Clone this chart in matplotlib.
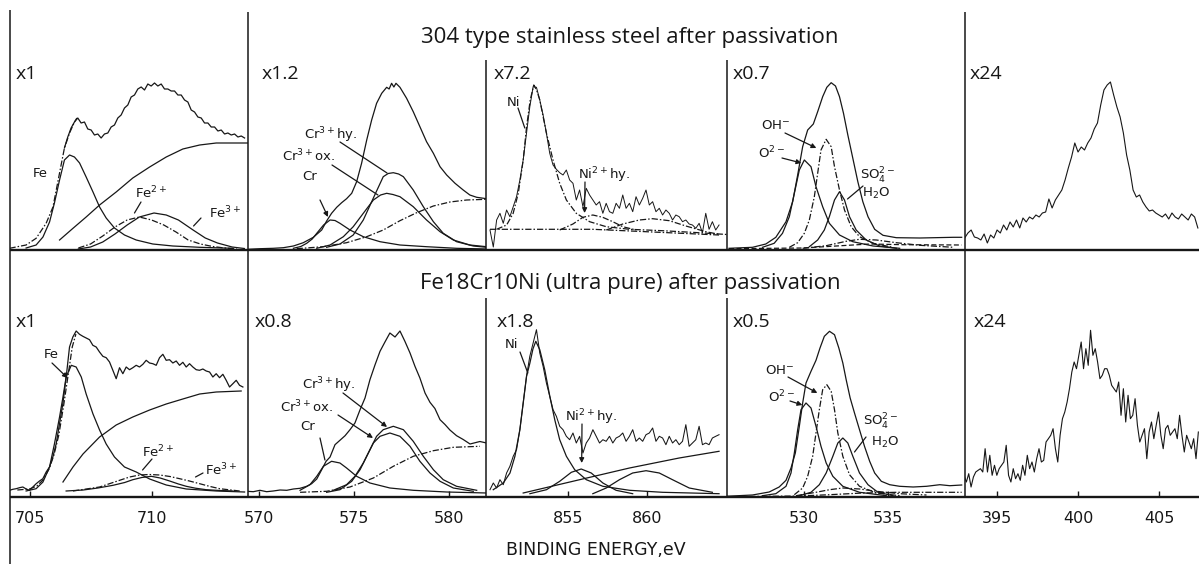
import numpy as np
import matplotlib
matplotlib.use('Agg')
import matplotlib.pyplot as plt
from matplotlib.lines import Line2D

W, H = 1199, 564
INK = '#171717'
DASHDOT = (0, (5, 1.6, 1.2, 1.6))

# ---------------- 304 stainless (top row) ----------------
# Fe 2p3/2
fe1_raw_i = [102, 113, 122, 128, 132, 127, 128, 121, 120, 115, 116, 112, 116, 117, 123, 125, 132, 135, 142, 145,
             153, 155, 161, 163, 160, 166, 164, 167, 164, 166, 161, 161, 159, 159, 155, 155, 150, 148, 140, 138,
             133, 132, 127, 127, 123, 123, 119, 120, 116, 117, 115, 116, 113, 114, 112]
fe1_raw_e = np.linspace(706.43, 713.81, len(fe1_raw_i))
fe1_env_e = [704.18, 704.86, 705.27, 705.68, 705.96, 706.23, 706.43, 706.64, 706.84, 706.94]
fe1_env_i = [1.7, 5, 11.7, 26.7, 43, 77, 102, 117, 128, 132]
fe1_bg_e = [706.23, 706.78, 707.32, 707.87, 708.55, 709.23, 709.92, 710.6, 711.28, 711.97, 712.65, 713.95]
fe1_bg_i = [10, 21.7, 33, 45, 58, 72, 83, 93, 101, 105, 107, 107]
fe1_fe_e = [704.86, 705.27, 705.55, 705.82, 706.02, 706.23, 706.43, 706.64, 706.84, 707.05, 707.32, 707.6, 707.87,
            708.14, 708.48, 708.89, 709.37, 710.05, 710.87, 711.97, 713.33]
fe1_fe_i = [2, 5, 13, 28, 47, 70, 90, 95, 93, 87, 73, 58, 43, 32, 22, 15, 10, 6, 4, 2.7, 1.7]
fe1_fe2_e = [707.0, 707.5, 708.0, 708.5, 709.0, 709.5, 710.0, 710.5, 711.0, 711.5, 712.0, 712.5, 713.0, 713.5]
fe1_fe2_i = [2, 6, 14, 23, 30, 33, 30, 25, 18, 10, 6, 3.5, 2, 1]
fe1_fe3_e = [707.0, 707.5, 708.0, 708.5, 709.0, 709.5, 710.1, 710.6, 711.1, 711.7, 712.2, 712.7, 713.3, 713.8]
fe1_fe3_i = [1, 3, 8, 16, 25, 33, 37, 35, 30, 20, 12, 7, 3, 1.5]

# Cr 2p3/2
cr1_raw_e = [569.42, 570.05, 570.75, 571.28, 571.81, 572.33, 572.86, 573.3, 573.56, 573.82, 574.09, 574.35, 574.61,
             574.88, 575.14, 575.4, 575.67, 575.93, 576.19, 576.46, 576.72, 576.85, 576.98, 577.1, 577.21, 577.42,
             577.77, 578.12, 578.47, 578.82, 579.18, 579.53, 579.88, 580.32, 580.75, 581.1, 581.46, 581.98]
cr1_raw_i = [0.7, 1.3, 1.7, 2.3, 4, 7.3, 12.7, 20, 29, 36.7, 42.7, 47.3, 51.3, 56.7, 68.3, 86.7, 110, 130, 146.7,
             156.7, 162.7, 161, 166.7, 163, 166.7, 162.7, 151.7, 138.3, 123.3, 108.3, 96.7, 83.3, 75, 66.7, 60, 55,
             52.7, 51.3]
cr1_bg_e = [571.98, 573.39, 574.61, 575.67, 576.54, 577.42, 578.3, 579.18, 580.05, 580.93, 581.98]
cr1_bg_i = [1.3, 3.3, 7.3, 13.3, 20, 29.3, 37.3, 44, 48, 50, 50.7]
cr1_cr_e = [571.81, 572.2, 572.51, 572.8, 573.04, 573.4, 573.74, 574.0, 574.26, 574.79, 575.49, 576.37, 577.42,
            578.82, 580.4, 582.0]
cr1_cr_i = [1.7, 3.5, 6.7, 11, 16.7, 25, 30, 29.5, 26.7, 20, 13.3, 8.3, 5, 3.3, 1.7, 1]
cr1_ox_e = [573.04, 573.74, 574.44, 574.96, 575.49, 576.02, 576.4, 576.72, 577.05, 577.42, 578.12, 578.82, 579.53,
            580.23, 581.1, 581.98]
cr1_ox_i = [1.7, 5, 13.3, 23.3, 36.7, 50, 55, 56.7, 55.5, 53.3, 43.3, 30, 18.3, 10, 5, 3.3]
cr1_hy_e = [573.56, 574.26, 574.96, 575.49, 576.02, 576.54, 576.8, 577.07, 577.35, 577.6, 578.12, 578.65, 579.18,
            579.7, 580.4, 581.28, 581.98]
cr1_hy_i = [2.7, 6, 15, 30, 52, 73.3, 76.5, 77.3, 76, 73.3, 60, 43.3, 28.3, 16.7, 8.3, 4, 2.7]

# Ni 2p3/2
ni1_raw_i = [20, 3, 30, 36.7, 26.7, 40, 33.3, 43.3, 53.3, 70, 90, 116.7, 143.3, 163.3, 162.7, 150, 135, 116.7,
             96.7, 85, 80.7, 77.3, 75, 80, 70, 66.7, 50, 60, 43.3, 61.7, 55, 50, 45, 48.3, 36.7, 46.7, 38.3, 36.7,
             46.7, 41.7, 55, 41.7, 46.7, 38.3, 53.3, 45, 51.7, 60, 45, 48.3, 38.3, 41.7, 35, 40, 36.7, 30, 35, 33.3,
             28.3, 30, 26, 25, 21.7, 26.7, 17.3, 36.7, 20.7, 28.3, 20, 25]
ni1_raw_e = np.linspace(850.125, 864.5, len(ni1_raw_i))
ni1_ni_e = [850.54, 851.17, 851.58, 851.9, 852.21, 852.42, 852.65, 852.875, 853.05, 853.25, 853.67, 854.08, 854.5,
            854.92, 855.54, 856.38, 857.42, 858.88, 860.96, 863.0, 865.0]
ni1_ni_i = [20.7, 25, 36.7, 56.7, 90, 123, 150, 165, 160, 150, 116.7, 90, 66.7, 50, 36.7, 28.3, 23.3, 20.7, 19.3,
            17.5, 15.5]
ni1_bg_e = [850.125, 856.58, 864.5]
ni1_bg_i = [20.7, 20.7, 15]
ni1_hy_e = [854.5, 855.33, 855.96, 856.58, 857.2, 857.83, 858.46, 859.29]
ni1_hy_i = [20, 26, 32.7, 35, 32.7, 28.3, 23.3, 20]
ni1_sat_e = [857.42, 858.46, 859.5, 860.33, 861.38, 862.42, 863.67, 864.5]
ni1_sat_i = [20, 26, 30, 31.3, 29.3, 24, 18.3, 15.7]

# O 1s
o1_raw_e = [525.48, 526.89, 527.69, 528.29, 528.9, 529.3, 529.6, 529.9, 530.2, 530.54, 530.8, 531.1, 531.35, 531.61,
            531.87, 532.11, 532.35, 532.61, 532.91, 533.21, 533.51, 533.82, 534.22, 534.72, 535.52, 536.93, 538.94,
            539.44]
o1_raw_i = [1.7, 2.7, 6, 12.7, 28.3, 48.3, 75, 103.3, 120, 126, 138.3, 153.3, 162.7, 167.3, 164, 153.3, 136.7, 115,
            91.7, 68.3, 48.3, 33.3, 20.7, 14.7, 12.3, 12, 12.7, 12.7]
o1_o2_e = [527.49, 528.19, 528.69, 529.1, 529.4, 529.7, 530.0, 530.4, 530.7, 531.1, 531.5, 532.11, 532.91, 534.12,
           535.72]
o1_o2_i = [2.7, 6.7, 16.7, 33.3, 56.7, 80, 90, 83.3, 63.3, 43.3, 26.7, 15, 8.3, 4, 1.7]
o1_oh_e = [529.1, 529.6, 530.0, 530.3, 530.6, 530.8, 531.0, 531.31, 531.61, 531.81, 532.11, 532.41, 532.81, 533.31,
           534.12, 535.32]
o1_oh_i = [2.7, 7.3, 16.7, 30, 53.3, 76.7, 100, 110.7, 103.3, 83.3, 60, 40, 23.3, 13.3, 6.7, 2.7]
o1_h2o_e = [530.3, 530.8, 531.2, 531.5, 531.81, 532.11, 532.41, 532.71, 533.11, 533.71, 534.52, 535.52]
o1_h2o_i = [3.3, 10, 20, 33.3, 50, 58.3, 50, 33.3, 20, 10, 4, 1.7]
o1_so4_e = [529.9, 531.31, 532.51, 533.31, 534.32, 535.52, 536.93, 538.94]
o1_so4_i = [1.7, 4.3, 8.7, 10.7, 10, 7.3, 4.7, 2.7]
o1_bg_e = [525.48, 529.9, 531.91, 533.92, 535.92, 539.44]
o1_bg_i = [1.3, 2, 4, 6, 5.3, 5]

# N 1s
n1_raw_i = [12, 17, 20, 13, 12, 10, 16, 7, 15, 12, 20, 17, 25, 20, 28, 23, 30, 22, 32, 28,
            33, 31, 35, 33, 37, 38, 51, 42, 50, 55, 60, 70, 82, 93, 107, 98, 103, 100, 107, 112,
            121, 127, 145, 160, 165, 168, 155, 143, 133, 117, 95, 80, 60, 53, 55, 48, 43, 39, 40, 37,
            35, 33, 36, 31, 37, 33, 31, 36, 33, 30, 36, 33, 22]
n1_raw_e = np.linspace(393.0, 407.4, len(n1_raw_i))

# ---------------- Fe18Cr10Ni (bottom row) ----------------
fe2_raw_i = [6.7, 7.7, 8.3, 9.3, 10, 8, 6.7, 10, 13.3, 16, 18.3, 25, 30, 40, 53.3, 73.3, 93.3, 120, 150, 160,
             166, 162.7, 160.7, 159, 157.3, 151.7, 150, 145, 140.7, 139.3, 135, 126.7, 118.3, 129.3, 123.3, 130,
             127.3, 129.3, 131.7, 130, 132.7, 136.7, 134, 133.3, 131.7, 139.3, 142.7, 136.7, 137.3, 134, 136, 131.7,
             134.7, 130, 133.3, 130, 127.3, 126.7, 128, 126, 125, 120, 123.3, 119.3, 122.7, 116.7, 110, 113.3,
             116.7, 111.7, 110]
fe2_raw_e = np.linspace(704.18, 713.74, len(fe2_raw_i))
fe2_env_e = [704.5, 705.0, 705.3, 705.55, 705.8, 706.0, 706.2, 706.4, 706.6, 706.75, 706.9]
fe2_env_i = [7, 8, 11, 17, 28, 42, 62, 92, 125, 150, 163]
fe2_bg_e = [706.37, 706.78, 707.19, 707.87, 708.55, 709.23, 709.92, 710.6, 711.28, 711.97, 712.65, 713.67]
fe2_bg_i = [15, 30, 43, 60, 72, 80, 87, 93, 98, 103, 105, 106]
fe2_fe_e = [704.86, 705.27, 705.55, 705.82, 706.02, 706.23, 706.37, 706.5, 706.71, 706.91, 707.12, 707.32, 707.6,
            707.87, 708.14, 708.48, 708.89, 709.37, 709.92, 710.6, 711.42, 712.65, 713.81]
fe2_fe_i = [6, 8.3, 15, 30, 53, 80, 100, 120, 131.7, 130, 120, 103, 83, 67, 53, 40, 30, 25, 18, 12, 8, 6, 5]
fe2_fe2_e = [706.5, 707.2, 707.8, 708.42, 708.9, 709.23, 709.6, 709.99, 710.35, 710.74, 711.1, 711.42, 711.8,
             712.24, 712.8, 713.33]
fe2_fe2_i = [6, 7, 9, 11.7, 14.5, 17.3, 19.5, 20.7, 19, 16, 13, 10.7, 8.8, 7.3, 6.5, 6]
fe2_fe3_e = [706.78, 707.87, 708.3, 708.69, 709.1, 709.51, 709.9, 710.33, 710.75, 711.15, 711.55, 711.97, 712.4,
             712.79, 713.61]
fe2_fe3_i = [6, 10, 13.5, 16.7, 20, 22, 22.5, 22, 20.5, 18.3, 16, 13.3, 10.5, 8.3, 6]

cr2_raw_e = [569.35, 569.7, 570.05, 570.4, 570.75, 571.11, 571.46, 571.81, 572.16, 572.51, 572.77, 573.04, 573.3,
             573.53, 573.74, 574.0, 574.26, 574.53, 574.79, 575.05, 575.32, 575.58, 575.84, 576.11, 576.37, 576.63,
             576.89, 577.16, 577.42, 577.68, 577.95, 578.21, 578.47, 578.74, 579.0, 579.26, 579.53, 579.79, 580.05,
             580.4, 580.75, 581.11, 581.63, 581.98]
cr2_raw_i = [5.7, 5.3, 6.7, 5.3, 6, 7, 6.7, 8, 8.7, 10.7, 13.3, 18, 27.3, 35.7, 40, 52.3, 56.7, 61.3, 67.3, 74,
             87.3, 99, 117.3, 132.3, 145.7, 155, 164, 160, 166, 155.7, 144, 130.7, 119, 104, 94.7, 88.5, 77.3,
             72.5, 67, 61.3, 57.5, 53, 55.5, 54]
cr2_bg_e = [572.16, 573.56, 574.79, 576.02, 577.07, 578.12, 579.18, 580.23, 581.63]
cr2_bg_i = [4.7, 5.7, 10, 19, 30.7, 40.7, 46.3, 49.7, 50.7]
cr2_cr_e = [572.16, 572.68, 573.04, 573.39, 573.82, 574.26, 574.61, 575.14, 575.84, 576.89, 578.12, 579.88, 581.98]
cr2_cr_i = [6.7, 12.3, 20.7, 30.7, 35.7, 34, 29, 20.7, 14, 9, 6.7, 5, 4]
cr2_ox_e = [573.56, 574.26, 574.88, 575.32, 575.67, 576.02, 576.37, 576.89, 577.42, 577.95, 578.47, 579.0, 579.53,
            580.23, 581.28]
cr2_ox_i = [4.7, 7.3, 15.7, 27.3, 40.7, 54, 60.7, 64, 60.7, 50.7, 35.7, 24, 15.7, 9, 5.7]
cr2_hy_e = [573.91, 574.61, 575.05, 575.49, 575.84, 576.19, 576.54, 577.07, 577.6, 578.12, 578.65, 579.18, 579.7,
            580.4, 581.46]
cr2_hy_i = [6.7, 12.3, 20.7, 34, 47.3, 60.7, 67.3, 70.7, 67.3, 55.7, 40.7, 27.3, 17.3, 10.7, 6.7]

ni2_raw_i = [7.3, 14, 9, 17.3, 12.3, 24, 30.7, 40.7, 47.3, 67.3, 94, 120.7, 140.7, 154, 167.3, 144, 130.7, 114,
             100.7, 87.3, 80.7, 70.7, 67.3, 60.7, 57.3, 64, 54, 60.7, 44, 54, 59, 67.3, 60.7, 54, 57.3, 55.7, 60.7,
             54, 59, 60.7, 64, 55.7, 60.7, 67.3, 55.7, 59, 55.7, 62.3, 64, 69, 55.7, 60.7, 59, 52.3, 60.7, 54, 57.3,
             52.3, 55.7, 72.3, 50.7, 54, 57.3, 70.7, 52.3, 54, 52.3, 59, 60.7, 62.3]
ni2_raw_e = np.linspace(850.125, 864.5, len(ni2_raw_i))
ni2_ni_e = [850.33, 850.96, 851.38, 851.69, 852.0, 852.21, 852.42, 852.63, 852.82, 853.0, 853.25, 853.56, 853.88,
            854.19, 854.5, 854.92, 855.44, 856.17, 857.21, 858.88, 860.96, 864.5]
ni2_ni_i = [7.3, 14, 24, 40.7, 67.3, 94, 120.7, 134, 148, 155.7, 147.3, 127.3, 100.7, 77.3, 57.3, 40.7, 27.3, 17.3,
            10.7, 6.7, 4.7, 3.3]
ni2_bg_e = [852.21, 855.75, 858.88, 862.0, 864.5]
ni2_bg_i = [4, 17.3, 29, 39, 45.7]
ni2_hy_e = [852.63, 853.67, 854.5, 855.23, 855.85, 856.48, 857.21, 858.04, 859.08]
ni2_hy_i = [3.3, 7.3, 15.7, 24.7, 28, 24, 14, 6.7, 3.3]
ni2_sat_e = [856.58, 857.42, 858.25, 859.08, 859.92, 860.75, 861.58, 862.63, 864.08]
ni2_sat_i = [3.3, 9, 17.3, 24, 26.3, 24, 17.3, 9, 4.7]

o2_raw_e = [525.28, 526.89, 527.89, 528.49, 528.9, 529.2, 529.46, 529.7, 529.9, 530.1, 530.4, 530.7, 530.94, 531.2,
            531.51, 531.81, 532.07, 532.31, 532.51, 532.75, 533.01, 533.31, 533.61, 533.92, 534.22, 534.62, 535.12,
            535.72, 536.53, 537.33, 538.13, 538.73, 539.44]
o2_raw_i = [0.7, 2, 5, 10, 16.7, 29, 44, 70.7, 94, 114, 125.7, 136.7, 149, 160.7, 165.7, 162.3, 149, 134, 117.3, 99,
            84, 67.3, 50.7, 35.7, 24, 15.7, 12.3, 10.7, 10, 10.7, 12.3, 11.3, 12]
o2_o2_e = [527.49, 528.29, 528.9, 529.2, 529.4, 529.6, 529.8, 530.1, 530.4, 530.7, 531.0, 531.31, 531.71, 532.31,
           533.31, 534.92]
o2_o2_i = [1.3, 3.3, 10.7, 24, 44, 67.3, 87.3, 94, 89, 70.7, 50.7, 34, 20.7, 10.7, 4.7, 1.3]
o2_oh_e = [529.4, 529.9, 530.2, 530.5, 530.7, 530.9, 531.1, 531.35, 531.61, 531.81, 532.01, 532.31, 532.71, 533.31,
           534.32, 535.72]
o2_oh_i = [2.3, 9, 20.7, 40.7, 64, 87.3, 107.3, 112.3, 105.7, 87.3, 64, 40.7, 22.3, 10.7, 4, 1.3]
o2_h2o_e = [529.7, 530.4, 530.9, 531.31, 531.71, 532.01, 532.31, 532.61, 532.91, 533.31, 533.82, 534.42, 535.32]
o2_h2o_i = [1.3, 4.7, 12.3, 24, 40.7, 54, 59, 54, 40.7, 24, 12.3, 4.7, 1.3]
o2_so4_e = [529.5, 530.7, 531.51, 532.31, 533.31, 534.32, 535.72, 537.33]
o2_so4_i = [1.3, 4.7, 7.3, 9, 8, 5.7, 3.3, 2]
o2_bg_e = [525.28, 529.7, 531.51, 533.51, 535.52, 539.44]
o2_bg_i = [0.3, 1, 2.3, 4, 4.7, 4.7]

n2_raw_i = [21.7, 15, 23.3, 10, 20, 25, 26.7, 28.3, 25, 48.3, 25, 41.7, 21.7, 31.7, 21.7, 28.3, 31.7, 35, 51.7, 21.7,
            15, 28.3, 18.3, 23.3, 16.7, 31.7, 21.7, 41.7, 28.3, 35, 25, 38.3, 48.3, 35, 36.7, 55, 58.3, 61.7, 68.3,
            48.3, 35, 61.7, 78.3, 85, 95, 108.3, 125, 135, 128.3, 141.7, 155, 128.3, 148.3, 131.7, 166.7, 141.7,
            148.3, 135, 118.3, 121.7, 128.3, 128.3, 121.7, 111.7, 108.3, 105, 115, 81.7, 108.3, 75, 101.7, 78.3,
            81.7, 98.3, 71.7, 55, 61.7, 68.3, 38.3, 65, 75, 58.3, 71.7, 85, 61.7, 48.3, 68.3, 71.7, 61.7, 65, 68.3,
            58.3, 81.7, 61.7, 45, 61.7, 55, 48.3, 58.3, 38.3, 65]
n2_raw_e = np.linspace(392.96, 407.43, len(n2_raw_i))

# energy windows and tick labels of the five columns
xlims = [(704.2, 713.95), (569.42, 581.95), (849.875, 865.0), (525.36, 539.64), (393.02, 407.47)]
xticks = [[705, 710], [570, 575, 580], [855, 860], [530, 535], [395, 400, 405]]
col_px = [(10, 248), (248, 486), (486, 727), (727, 965), (965, 1199)]
top_scales = ['x1', 'x1.2', 'x7.2', 'x0.7', 'x24']
bot_scales = ['x1', 'x0.8', 'x1.8', 'x0.5', 'x24']
top_scale_x = [16, 262, 494, 733, 970]
bot_scale_x = [16, 255, 497, 733, 974]

fig = plt.figure(figsize=(W / 100, H / 100), dpi=100)
fig.patch.set_facecolor('white')


def make_panel(col, ytop, ybot, labelled):
    x0, x1 = col_px[col]
    ax = fig.add_axes([x0 / W, 1 - ybot / H, (x1 - x0) / W, (ybot - ytop) / H])
    ax.set_xlim(*xlims[col])
    ax.set_ylim(0, ybot - ytop)
    for s in ax.spines.values():
        s.set_visible(False)
    ax.patch.set_alpha(0)
    ax.set_yticks([])
    if labelled:
        ax.set_xticks(xticks[col])
        ax.tick_params(axis='x', direction='in', length=4, width=1, color=INK, pad=10,
                       labelsize=11.5, labelcolor=INK)
    else:
        ax.set_xticks([])
    return ax


def curve(ax, e, i, ls='-', lw=0.9):
    ax.plot(e, i, color=INK, lw=lw, ls=ls, solid_joinstyle='round')


def ftext(x, y, s, size=9.5, ha='center', family='DejaVu Sans'):
    fig.text(x / W, 1 - y / H, s, fontsize=size, ha=ha, va='center', color=INK, family=family)


def leader(ax, tip, start, head=False):
    ax.annotate('', xy=tip, xycoords='data', xytext=(start[0], H - start[1]), textcoords='figure pixels',
                arrowprops=dict(arrowstyle='-|>' if head else '-', color=INK, lw=0.9,
                                shrinkA=0, shrinkB=0, mutation_scale=7))


def frame(x0, y0, x1, y1, lw=1.1):
    fig.add_artist(Line2D([x0 / W, x1 / W], [1 - y0 / H, 1 - y1 / H], transform=fig.transFigure,
                          color=INK, lw=lw, solid_capstyle='butt'))


top = [make_panel(c, 12, 250, False) for c in range(5)]
bot = [make_panel(c, 260, 497, True) for c in range(5)]

# ---- top row curves
ax = top[0]
curve(ax, fe1_raw_e, fe1_raw_i)
curve(ax, fe1_env_e, fe1_env_i, DASHDOT)
curve(ax, fe1_bg_e, fe1_bg_i)
curve(ax, fe1_fe_e, fe1_fe_i)
curve(ax, fe1_fe2_e, fe1_fe2_i, DASHDOT)
curve(ax, fe1_fe3_e, fe1_fe3_i)

ax = top[1]
curve(ax, cr1_raw_e, cr1_raw_i)
curve(ax, cr1_bg_e, cr1_bg_i, DASHDOT)
curve(ax, cr1_cr_e, cr1_cr_i)
curve(ax, cr1_ox_e, cr1_ox_i)
curve(ax, cr1_hy_e, cr1_hy_i)

ax = top[2]
curve(ax, ni1_raw_e, ni1_raw_i, lw=0.7)
curve(ax, ni1_ni_e, ni1_ni_i, DASHDOT)
curve(ax, ni1_bg_e, ni1_bg_i, DASHDOT)
curve(ax, ni1_hy_e, ni1_hy_i, DASHDOT)
curve(ax, ni1_sat_e, ni1_sat_i, DASHDOT)

ax = top[3]
curve(ax, o1_raw_e, o1_raw_i)
curve(ax, o1_o2_e, o1_o2_i)
curve(ax, o1_oh_e, o1_oh_i, DASHDOT)
curve(ax, o1_h2o_e, o1_h2o_i)
curve(ax, o1_so4_e, o1_so4_i, DASHDOT)
curve(ax, o1_bg_e, o1_bg_i, (0, (4, 2)))

curve(top[4], n1_raw_e, n1_raw_i, lw=0.8)

# ---- bottom row curves
ax = bot[0]
curve(ax, fe2_raw_e, fe2_raw_i)
curve(ax, fe2_env_e, fe2_env_i, DASHDOT)
curve(ax, fe2_bg_e, fe2_bg_i)
curve(ax, fe2_fe_e, fe2_fe_i)
curve(ax, fe2_fe2_e, fe2_fe2_i)
curve(ax, fe2_fe3_e, fe2_fe3_i, DASHDOT)

ax = bot[1]
curve(ax, cr2_raw_e, cr2_raw_i)
curve(ax, cr2_bg_e, cr2_bg_i, DASHDOT)
curve(ax, cr2_cr_e, cr2_cr_i)
curve(ax, cr2_ox_e, cr2_ox_i)
curve(ax, cr2_hy_e, cr2_hy_i)

ax = bot[2]
curve(ax, ni2_raw_e, ni2_raw_i, lw=0.75)
curve(ax, ni2_ni_e, ni2_ni_i)
curve(ax, ni2_bg_e, ni2_bg_i)
curve(ax, ni2_hy_e, ni2_hy_i)
curve(ax, ni2_sat_e, ni2_sat_i)

ax = bot[3]
curve(ax, o2_raw_e, o2_raw_i)
curve(ax, o2_o2_e, o2_o2_i)
curve(ax, o2_oh_e, o2_oh_i, DASHDOT)
curve(ax, o2_h2o_e, o2_h2o_i)
curve(ax, o2_so4_e, o2_so4_i, DASHDOT)
curve(ax, o2_bg_e, o2_bg_i, DASHDOT)

curve(bot[4], n2_raw_e, n2_raw_i, lw=0.8)

# ---- peak labels, top row
ftext(40, 173, 'Fe')
ftext(151, 193, 'Fe$^{2+}$')
leader(top[0], (709.3, 37), (141, 202))
ftext(225, 213, 'Fe$^{3+}$')
leader(top[0], (711.72, 24), (201, 218))

ftext(331, 135, 'Cr$^{3+}$hy.')
leader(top[1], (576.74, 77), (340, 142))
ftext(309, 156, 'Cr$^{3+}$ox.')
leader(top[1], (576.26, 55), (332, 165))
ftext(310, 176, 'Cr')
leader(top[1], (573.63, 33), (320, 200), head=True)

ftext(513, 102, 'Ni')
leader(top[2], (852.31, 122), (518, 108))
ftext(604, 175, 'Ni$^{2+}$hy.')
leader(top[2], (856.06, 37), (585, 182), head=True)

ftext(776, 126, 'OH$^{-}$')
leader(top[3], (530.72, 102), (785, 133), head=True)
ftext(772, 153, 'O$^{2-}$')
leader(top[3], (529.82, 87), (782, 158), head=True)
ftext(878, 176, 'SO$_4^{2-}$')
ftext(876, 193, 'H$_2$O')
leader(top[3], (532.59, 51), (863, 186))

# ---- peak labels, bottom row
ftext(51, 355, 'Fe')
leader(bot[0], (706.56, 119), (52, 363), head=True)
ftext(158, 452, 'Fe$^{2+}$')
leader(bot[0], (709.63, 27), (152, 459))
ftext(221, 470, 'Fe$^{3+}$')
leader(bot[0], (711.8, 20), (203, 473))

ftext(329, 385, 'Cr$^{3+}$hy.')
leader(bot[1], (576.74, 70), (343, 393), head=True)
ftext(307, 407, 'Cr$^{3+}$ox.')
leader(bot[1], (576.0, 59), (338, 415), head=True)
ftext(308, 426, 'Cr')
leader(bot[1], (573.47, 37), (320, 438))

ftext(512, 345, 'Ni')
leader(bot[2], (852.5, 124), (520, 352))
ftext(591, 417, 'Ni$^{2+}$hy.')
leader(bot[2], (855.88, 34), (582, 424), head=True)

ftext(780, 370, 'OH$^{-}$')
leader(bot[3], (530.78, 104), (788, 377), head=True)
ftext(782, 397, 'O$^{2-}$')
leader(bot[3], (529.88, 92), (790, 401), head=True)
ftext(881, 422, 'SO$_4^{2-}$')
ftext(885, 442, 'H$_2$O')
leader(bot[3], (533.01, 45), (866, 437))

# sensitivity factors in the panel corners
for x, s in zip(top_scale_x, top_scales):
    ftext(x, 74, s, size=14, ha='left', family='Open Sans')
for x, s in zip(bot_scale_x, bot_scales):
    ftext(x, 322, s, size=14, ha='left', family='Open Sans')

ftext(630, 38, '304 type stainless steel after passivation', size=16, family='Open Sans')
ftext(630, 283, 'Fe18Cr10Ni (ultra pure) after passivation', size=16, family='Open Sans')
ftext(596, 550, 'BINDING ENERGY,eV', size=12.5)

# panel frame
frame(10, 10, 10, 564)
frame(248, 12, 248, 497)
frame(486, 60, 486, 250)
frame(486, 298, 486, 497)
frame(727, 60, 727, 250)
frame(727, 298, 727, 497)
frame(965, 12, 965, 497)
frame(10, 250, 1199, 250, lw=1.7)
frame(10, 497, 1199, 497, lw=1.7)

fig.savefig('out.png', dpi=100, facecolor='white')
